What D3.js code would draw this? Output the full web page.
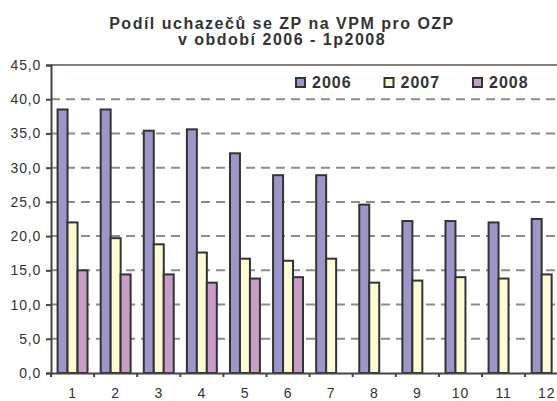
<!DOCTYPE html>
<html>
<head>
<meta charset="utf-8">
<script src="https://cdn.jsdelivr.net/npm/d3@7"></script>
<style>
  body { margin: 0; background: #fff; }
  svg { display: block; }
  text { font-family: "Liberation Sans", Arial, sans-serif; fill: #333; }
</style>
</head>
<body>
<script>
// chart data
var categories = ["1", "2", "3", "4", "5", "6", "7", "8", "9", "10", "11", "12"];
var years = ["2006", "2007", "2008"];
var values2006 = [38.5, 38.5, 35.4, 35.6, 32.1, 28.9, 28.9, 24.6, 22.2, 22.2, 22.0, 22.5];
var values2007 = [22.0, 19.7, 18.8, 17.6, 16.7, 16.4, 16.7, 13.2, 13.5, 14.0, 13.8, 14.4];
var values2008 = [15.0, 14.4, 14.4, 13.2, 13.8, 14.0, null, null, null, null, null, null];
var yTicks = [0, 5, 10, 15, 20, 25, 30, 35, 40, 45];
var titleLines = ["Podíl uchazečů se ZP na VPM pro OZP", "v období 2006 - 1p2008"];

var series = [values2006, values2007, values2008];
var colors = ["#9c96c9", "#fffbd4", "#c89dc8"];

var w = 557, h = 401;
var margin = {left: 51, top: 65, bottom: 373};

var svg = d3.select("body").append("svg")
  .attr("width", w)
  .attr("height", h);

// category scale runs past the right edge (chart is cut off there)
var x0 = d3.scaleBand()
  .domain(categories)
  .range([margin.left, margin.left + 12 * 43.1]);

var x1 = d3.scaleBand()
  .domain(years)
  .range([0, x0.bandwidth()])
  .paddingOuter(0.66);

var y = d3.scaleLinear()
  .domain([0, 45])
  .range([margin.bottom, margin.top]);

// dashed gridlines
svg.append("g")
  .selectAll("line")
  .data(yTicks.filter(function(d){ return d > 0 && d < 45; }))
  .enter()
  .append("line")
  .attr("x1", margin.left)
  .attr("x2", w)
  .attr("y1", function(d){ return y(d); })
  .attr("y2", function(d){ return y(d); })
  .style("stroke", "#8c8c8c")
  .style("stroke-width", 2)
  .style("stroke-dasharray", "9,6");

// top border of plot area
svg.append("line")
  .attr("x1", margin.left)
  .attr("x2", w)
  .attr("y1", y(45))
  .attr("y2", y(45))
  .style("stroke", "#8a7c78")
  .style("stroke-width", 2);

// bars
var groups = svg.selectAll(".cat")
  .data(categories)
  .enter()
  .append("g")
  .attr("class", "cat")
  .attr("transform", function(d){ return "translate(" + x0(d) + ",0)"; });

groups.selectAll("rect")
  .data(function(d, i){
    return years.map(function(yr, j){ return {year: yr, j: j, value: series[j][i]}; })
      .filter(function(e){ return e.value != null; });
  })
  .enter()
  .append("rect")
  .attr("x", function(d){ return x1(d.year); })
  .attr("y", function(d){ return y(d.value); })
  .attr("width", x1.bandwidth())
  .attr("height", function(d){ return y(0) - y(d.value); })
  .style("fill", function(d){ return colors[d.j]; })
  .style("stroke", "#333")
  .style("stroke-width", 2);

// y axis
var yAxis = d3.axisLeft(y)
  .tickValues(yTicks)
  .tickSize(5)
  .tickPadding(5)
  .tickFormat(function(d){ return d3.format(".1f")(d).replace(".", ","); });

var yG = svg.append("g")
  .attr("transform", "translate(" + margin.left + ",0)")
  .call(yAxis);
yG.select(".domain").style("stroke", "#444").style("stroke-width", 2);
yG.selectAll(".tick line").style("stroke", "#444").style("stroke-width", 2);
yG.selectAll("text")
  .style("font-size", "14px")
  .style("letter-spacing", "0.8px")
  .style("fill", "#333");

// x axis: labels at category centres, ticks on category boundaries
var xAxis = d3.axisBottom(x0)
  .tickSize(0)
  .tickPadding(15);

var xG = svg.append("g")
  .attr("transform", "translate(0," + margin.bottom + ")")
  .call(xAxis);
xG.select(".domain").style("stroke", "#444").style("stroke-width", 2);
xG.selectAll("text")
  .style("font-size", "14px")
  .style("letter-spacing", "0.8px")
  .style("fill", "#333");

xG.selectAll(".bound")
  .data(categories)
  .enter()
  .append("line")
  .attr("class", "bound")
  .attr("x1", function(d){ return x0(d); })
  .attr("x2", function(d){ return x0(d); })
  .attr("y1", 0)
  .attr("y2", 4)
  .style("stroke", "#444")
  .style("stroke-width", 2);

// title
svg.append("text")
  .attr("text-anchor", "middle")
  .style("font-size", "16px")
  .style("font-weight", "bold")
  .style("letter-spacing", "1.5px")
  .selectAll("tspan")
  .data(titleLines)
  .enter()
  .append("tspan")
  .attr("x", 282)
  .attr("y", function(d, i){ return 29 + i * 16; })
  .text(function(d){ return d; });

// legend
var legend = svg.selectAll(".legend")
  .data(years)
  .enter()
  .append("g")
  .attr("class", "legend")
  .attr("transform", function(d, i){ return "translate(" + (296 + i * 88.5) + ",78)"; });

legend.append("rect")
  .attr("width", 9)
  .attr("height", 9)
  .style("fill", function(d, i){ return colors[i]; })
  .style("stroke", "#333")
  .style("stroke-width", 2);

legend.append("text")
  .attr("x", 16)
  .attr("y", 10)
  .style("font-size", "16px")
  .style("font-weight", "bold")
  .style("letter-spacing", "1px")
  .text(function(d){ return d; });
</script>
</body>
</html>
